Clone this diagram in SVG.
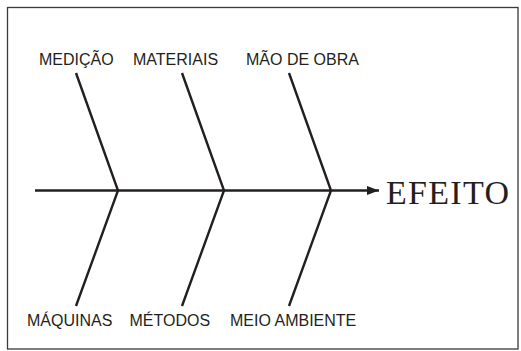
<svg xmlns="http://www.w3.org/2000/svg" width="521" height="351" viewBox="0 0 521 351">
<style>
.bone{stroke:#231f20;stroke-width:2.4;fill:none;stroke-linejoin:miter}
.lbl{font-family:"Liberation Sans",Arial,sans-serif;font-size:16px;fill:#231f20}
.eff{font-family:"Liberation Serif","Times New Roman",serif;font-size:34px;fill:#231f20}
</style>
<defs>
<marker id="ah" markerWidth="12" markerHeight="9" refX="12" refY="4.5" orient="auto" markerUnits="userSpaceOnUse">
<path d="M0,0 L12,4.5 L0,9 Z" fill="#231f20"/>
</marker>
</defs>
<rect x="7.5" y="7.5" width="510.5" height="341.5" fill="#fff" stroke="#3a3a3a" stroke-width="1.3"/>
<g id="connectors">
<line class="bone" x1="35" y1="190.5" x2="379" y2="190.5" marker-end="url(#ah)"/>
<polyline class="bone" points="76,73 118,190.5 76,306"/>
<polyline class="bone" points="182,73 224,190.5 182,306"/>
<polyline class="bone" points="289,73 331,190.5 289,306"/>
</g>
<g id="medicao"><text class="lbl" x="39" y="64.5">MEDIÇÃO</text></g>
<g id="materiais"><text class="lbl" x="133" y="64.5">MATERIAIS</text></g>
<g id="mao-de-obra"><text class="lbl" x="246" y="64.5">MÃO DE OBRA</text></g>
<g id="maquinas"><text class="lbl" x="27" y="326">MÁQUINAS</text></g>
<g id="metodos"><text class="lbl" x="129.5" y="326">MÉTODOS</text></g>
<g id="meio-ambiente"><text class="lbl" x="230" y="326">MEIO AMBIENTE</text></g>
<g id="efeito"><text class="eff" x="386" y="204" textLength="123">EFEITO</text></g>
</svg>
